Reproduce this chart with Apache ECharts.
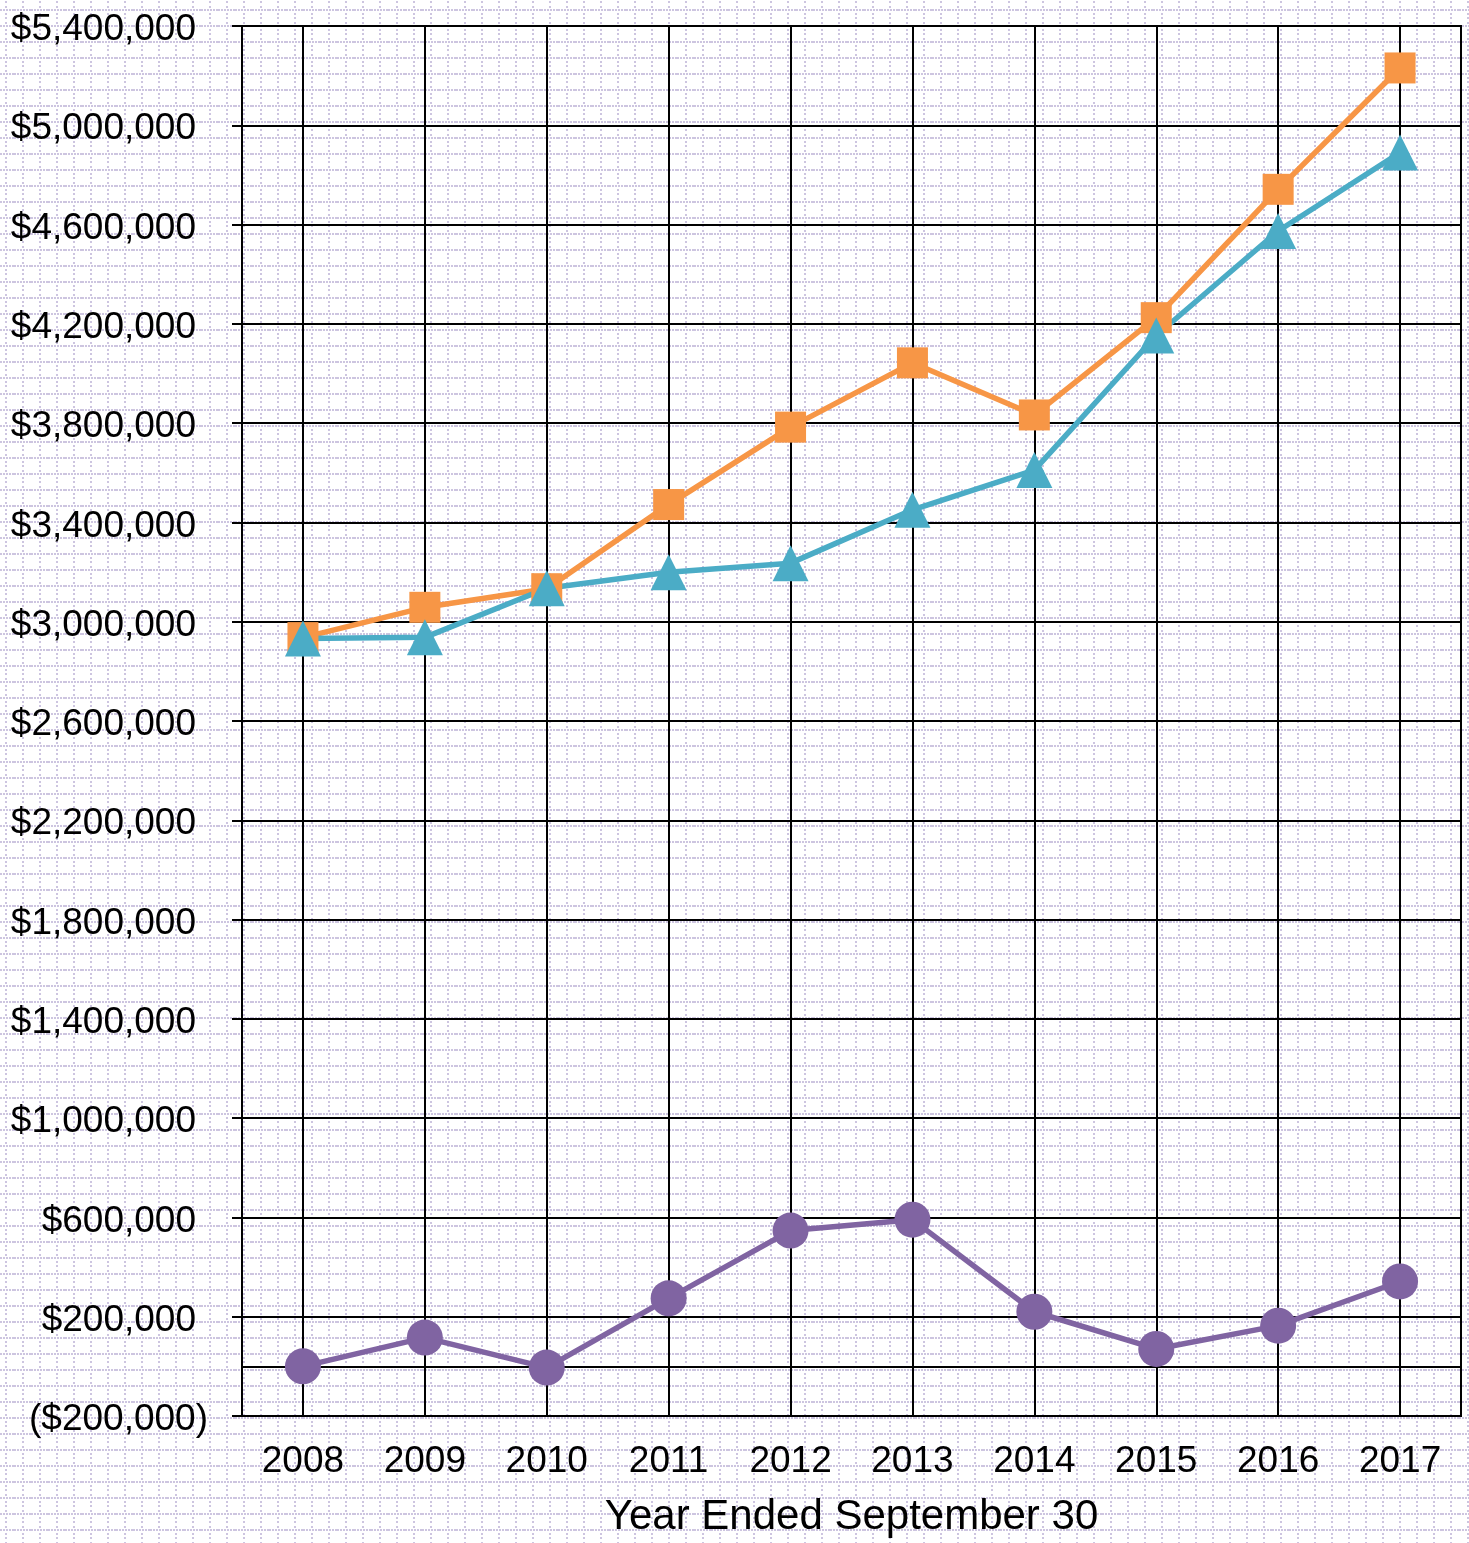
<!DOCTYPE html>
<html>
<head>
<meta charset="utf-8">
<script src="https://cdn.jsdelivr.net/npm/echarts@6/dist/echarts.min.js"></script>
<style>
	html, body { margin: 0; padding: 0; background: #fff; }
	#chart { width: 1469px; height: 1543px; }
</style>
</head>
<body>
<div id="chart"></div>
<script>
// 数据
const years = ['2008', '2009', '2010', '2011', '2012', '2013', '2014', '2015', '2016', '2017'];
const orangeVals = [2936000, 3058000, 3133000, 3472000, 3784000, 4043000, 3833000, 4225000, 4742000, 5231000];
const tealVals = [2932000, 2937000, 3135000, 3199000, 3236000, 3451000, 3611000, 4153000, 4574000, 4890000];
const purpleVals = [0, 116000, -5000, 274000, 547000, 591000, 220000, 70000, 164000, 342000];
const yMin = -200000, yMax = 5400000, yStep = 400000;
const xTitle = 'Year Ended September 30';

const font = 'Liberation Sans, Arial, sans-serif';

// 背景点状网格
function makeBackground(){
	const c = document.createElement('canvas');
	c.width = 17; c.height = 16;
	const ctx = c.getContext('2d');
	ctx.fillStyle = '#ffffff';
	ctx.fillRect(0, 0, 17, 16);
	ctx.fillStyle = '#cdc5e0';
	// 横向点线
	[0, 3, 6, 9, 12, 14].forEach(function(x){
		ctx.fillRect(x, 9, 2, 2);
	});
	// 纵向点线
	[1, 6, 13].forEach(function(y){
		ctx.fillRect(5, y, 2, 2);
	});
	return c.toDataURL();
}
document.getElementById('chart').style.backgroundImage = 'url(' + makeBackground() + ')';

function money(v){
	const s = '$' + Math.abs(v).toLocaleString('en-US');
	return v < 0 ? '{n|(' + s + ')}' : '{n|' + s + '}{p| }';
}

const chart = echarts.init(document.getElementById('chart'), null, {renderer: 'canvas'});

const gridLines = years.map(function(y){ return {xAxis: y}; });
gridLines.push({yAxis: 0});

const option = {
	backgroundColor: 'transparent',
	animation: false,
	grid: {
		left: 242, right: 8, top: 26, bottom: 126,
		show: true, borderColor: '#000', borderWidth: 2
	},
	xAxis: {
		type: 'category',
		data: years,
		boundaryGap: true,
		axisLine: {lineStyle: {color: '#000', width: 2}},
		axisTick: {show: false},
		splitLine: {show: false},
		axisLabel: {color: '#000', fontSize: 37, fontFamily: font, margin: 27},
		name: xTitle,
		nameLocation: 'middle',
		nameGap: 80,
		nameTextStyle: {color: '#000', fontSize: 42, fontFamily: font}
	},
	yAxis: {
		type: 'value',
		min: yMin, max: yMax, interval: yStep,
		axisLine: {show: true, lineStyle: {color: '#000', width: 2}},
		axisTick: {show: true, length: 10, lineStyle: {color: '#000', width: 2}},
		splitLine: {show: true, lineStyle: {color: '#000', width: 2}},
		axisLabel: {
			margin: 34,
			padding: [8, 0, 0, 0],
			formatter: money,
			rich: {
				n: {color: '#000', fontSize: 37, fontFamily: font},
				p: {width: 12, fontSize: 37}
			}
		}
	},
	series: [
		{
			name: 'purple', type: 'line', data: purpleVals,
			symbol: 'circle', symbolSize: 36,
			lineStyle: {color: '#8064A2', width: 5.5},
			itemStyle: {color: '#8064A2'},
			markLine: {
				silent: true, z: 1, symbol: 'none', animation: false,
				label: {show: false},
				lineStyle: {color: '#000', width: 2, type: 'solid'},
				emphasis: {disabled: true},
				data: gridLines
			}
		},
		{
			name: 'orange', type: 'line', data: orangeVals,
			symbol: 'rect', symbolSize: 31,
			lineStyle: {color: '#F79646', width: 5.5},
			itemStyle: {color: '#F79646'}
		},
		{
			name: 'teal', type: 'line', data: tealVals,
			symbol: 'triangle', symbolSize: 36,
			lineStyle: {color: '#4BACC6', width: 5.5},
			itemStyle: {color: '#4BACC6'}
		}
	]
};
chart.setOption(option);
</script>
</body>
</html>
